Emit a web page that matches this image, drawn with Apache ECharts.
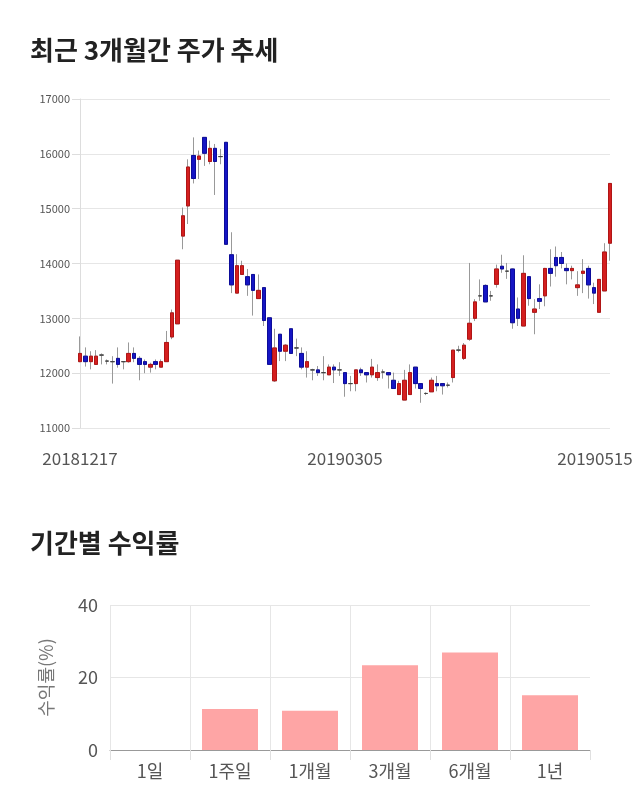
<!DOCTYPE html>
<html>
<head>
<meta charset="utf-8">
<script src="https://cdn.jsdelivr.net/npm/echarts@6/dist/echarts.min.js"></script>
<style>
html,body{margin:0;padding:0;background:#fff;}
#main{width:640px;height:810px;}
</style>
</head>
<body>
<div id="main"></div>
<script>
const dates = [
'20181217','20181218','20181219','20181220','20181221','20181224','20181226','20181227','20181228',
'20190102','20190103','20190104','20190107','20190108','20190109','20190110','20190111','20190114','20190115','20190116','20190117','20190118','20190121','20190122','20190123','20190124','20190125','20190128','20190129','20190130','20190131',
'20190201','20190207','20190208','20190211','20190212','20190213','20190214','20190215','20190218','20190219','20190220','20190221','20190222','20190225','20190226','20190227','20190228',
'20190304','20190305','20190306','20190307','20190308','20190311','20190312','20190313','20190314','20190315','20190318','20190319','20190320','20190321','20190322','20190325','20190326','20190327','20190328','20190329',
'20190401','20190402','20190403','20190404','20190405','20190408','20190409','20190410','20190411','20190412','20190415','20190416','20190417','20190418','20190419','20190422','20190423','20190424','20190425','20190426','20190429','20190430',
'20190502','20190503','20190507','20190508','20190509','20190510','20190513','20190514','20190515'
];
const openP = [12210,12310,12210,12160,12330,12220,12210,12270,12210,12210,12360,12270,12210,12110,12210,12110,12210,12660,12900,14500,15050,15970,15900,16300,15860,16100,15950,16210,14160,13460,13800,13760,13800,13360,13560,13010,11860,12710,12400,12810,12460,12360,12110,12060,12060,12010,11970,12110,12060,12010,11810,11810,12060,12010,11970,11920,12020,12010,11870,11610,11510,11610,12110,11810,11630,11660,11810,11810,11780,11920,12420,12270,12620,13000,13410,13600,13410,13620,13950,13860,13900,13170,12860,13760,13110,13360,13410,13910,14110,14110,13910,13870,13560,13820,13910,13560,13110,13500,14370];
const closeP = [12360,12210,12310,12310,12330,12220,12210,12160,12210,12360,12270,12160,12160,12160,12160,12210,12560,13100,14060,14870,15760,15550,15960,16010,16100,15860,15950,14350,13610,13960,13960,13610,13510,13510,12960,12160,12460,12400,12510,12360,12460,12110,12210,12060,12010,12010,12110,12060,12060,11810,11810,12060,12010,11970,12110,12010,12020,11970,11720,11810,11870,12010,11810,11720,11630,11870,11770,11770,11780,12420,12420,12510,12910,13300,13410,13300,13410,13900,13900,13860,12920,13000,13820,13360,13170,13310,13910,13820,13960,14000,13870,13910,13610,13860,13610,13460,13710,14210,15460];
const lowP = [12200,12120,12070,12150,12160,12160,11810,12100,12070,12190,12200,11870,12000,12010,12070,12110,12210,12620,12900,14260,14720,15460,15540,15780,15810,15250,15810,14350,13460,13460,13800,13410,13050,13360,12860,12160,11840,12220,12220,12360,12310,12070,11920,11870,11950,11870,11970,11820,11950,11570,11670,11670,11950,11830,11920,11860,11900,11720,11720,11610,11510,11610,11720,11460,11600,11660,11670,11610,11740,11830,12380,12240,12590,12950,13320,13300,13320,13560,13830,13720,12810,12860,12860,13230,12710,13170,13220,13580,13760,13910,13620,13710,13410,13460,13360,13260,13110,13500,14050];
const highP = [12670,12470,12400,12420,12360,12250,12310,12470,12220,12560,12470,12310,12250,12190,12250,12250,12770,13160,14060,15020,15900,16300,16060,16300,16240,16180,16090,16210,14570,14170,14050,13900,13800,13800,13560,13010,12810,12710,12530,12810,12630,12470,12400,12080,12130,12310,12160,12160,12200,12010,11950,12060,12100,12010,12260,12160,12070,12010,12010,11860,12060,12160,12110,11810,11650,11920,11950,11810,11830,12420,12500,12550,14010,13350,13710,13620,13500,13980,14160,14010,13910,13380,14150,13770,13350,13620,13920,14260,14310,14210,14000,13960,13860,14080,13960,13650,13710,14370,15460];
const priceTicks = [11000,12000,13000,14000,15000,16000,17000];

const periods = ['1일','1주일','1개월','3개월','6개월','1년'];
const returns = [0, 11.3, 10.8, 23.4, 26.9, 15.1];

const FONT = '"Noto Sans CJK KR","Noto Sans",sans-serif';
const fullData = dates.map((d,i)=>[openP[i], closeP[i], lowP[i], highP[i]]);
const bodyData = dates.map((d,i)=>[openP[i], closeP[i], Math.min(openP[i],closeP[i]), Math.max(openP[i],closeP[i])]);
const lastIdx = dates.length - 1;

const chart = echarts.init(document.getElementById('main'));
chart.setOption({
  animation:false,
  textStyle:{fontFamily:FONT},
  title:[
    {text:'최근 3개월간 주가 추세', left:25, top:32, textStyle:{fontSize:26, fontWeight:'bold', color:'#222', fontFamily:FONT}},
    {text:'기간별 수익률', left:25, top:525, textStyle:{fontSize:26, fontWeight:'bold', color:'#222', fontFamily:FONT}}
  ],
  grid:[
    {left:80, right:30, top:99, height:329},
    {left:110, right:50, top:605, height:145}
  ],
  xAxis:[
    {type:'category', gridIndex:0, data:dates, boundaryGap:false,
     axisLine:{show:false}, axisTick:{show:false}, splitLine:{show:false},
     axisLabel:{interval:48, fontSize:17, color:'#555', margin:22, fontFamily:FONT,
       formatter:(v,i)=> i===lastIdx ? '{r|'+v+'}' : v,
       rich:{r:{fontSize:17, color:'#555', padding:[0,30,0,0], fontFamily:FONT}}}},
    {type:'category', gridIndex:1, data:periods,
     axisLine:{lineStyle:{color:'#999'}},
     axisTick:{show:true, length:10, lineStyle:{color:'#e0e0e0'}},
     splitLine:{show:true, showMaxLine:false, lineStyle:{color:'#e6e6e6'}},
     axisLabel:{fontSize:18, color:'#555', margin:12, fontFamily:FONT}}
  ],
  yAxis:[
    {type:'value', gridIndex:0, min:priceTicks[0], max:priceTicks[priceTicks.length-1], interval:1000,
     axisLine:{show:true, lineStyle:{color:'#ddd'}},
     axisTick:{show:true, length:8, lineStyle:{color:'#ddd'}},
     axisLabel:{fontSize:11, color:'#555', margin:10, fontFamily:FONT, formatter:(v)=>String(v)},
     splitLine:{lineStyle:{color:'#e6e6e6'}}},
    {type:'value', gridIndex:1, min:0, max:40, interval:20,
     name:'수익률(%)', nameLocation:'middle', nameGap:55,
     nameTextStyle:{fontSize:18, color:'#777', fontFamily:FONT},
     axisLine:{show:false}, axisTick:{show:false},
     axisLabel:{fontSize:18, color:'#555', margin:12, fontFamily:FONT},
     splitLine:{lineStyle:{color:'#e6e6e6'}}}
  ],
  series:[
    {type:'candlestick', xAxisIndex:0, yAxisIndex:0, data:fullData, barWidth:4, clip:false,
     itemStyle:{color:'#999', color0:'#999', borderColor:'#999', borderColor0:'#999', borderColorDoji:'#999', borderWidth:1}},
    {type:'candlestick', xAxisIndex:0, yAxisIndex:0, data:bodyData, barWidth:4, clip:false,
     itemStyle:{color:'#d41f1f', color0:'#1515c4', borderColor:'#b01515', borderColor0:'#0c0c9a', borderColorDoji:'#444', borderWidth:1}},
    {type:'bar', xAxisIndex:1, yAxisIndex:1, data:returns, barWidth:'70%',
     itemStyle:{color:'#fea5a5', borderWidth:0}}
  ]
});
</script>
</body>
</html>
